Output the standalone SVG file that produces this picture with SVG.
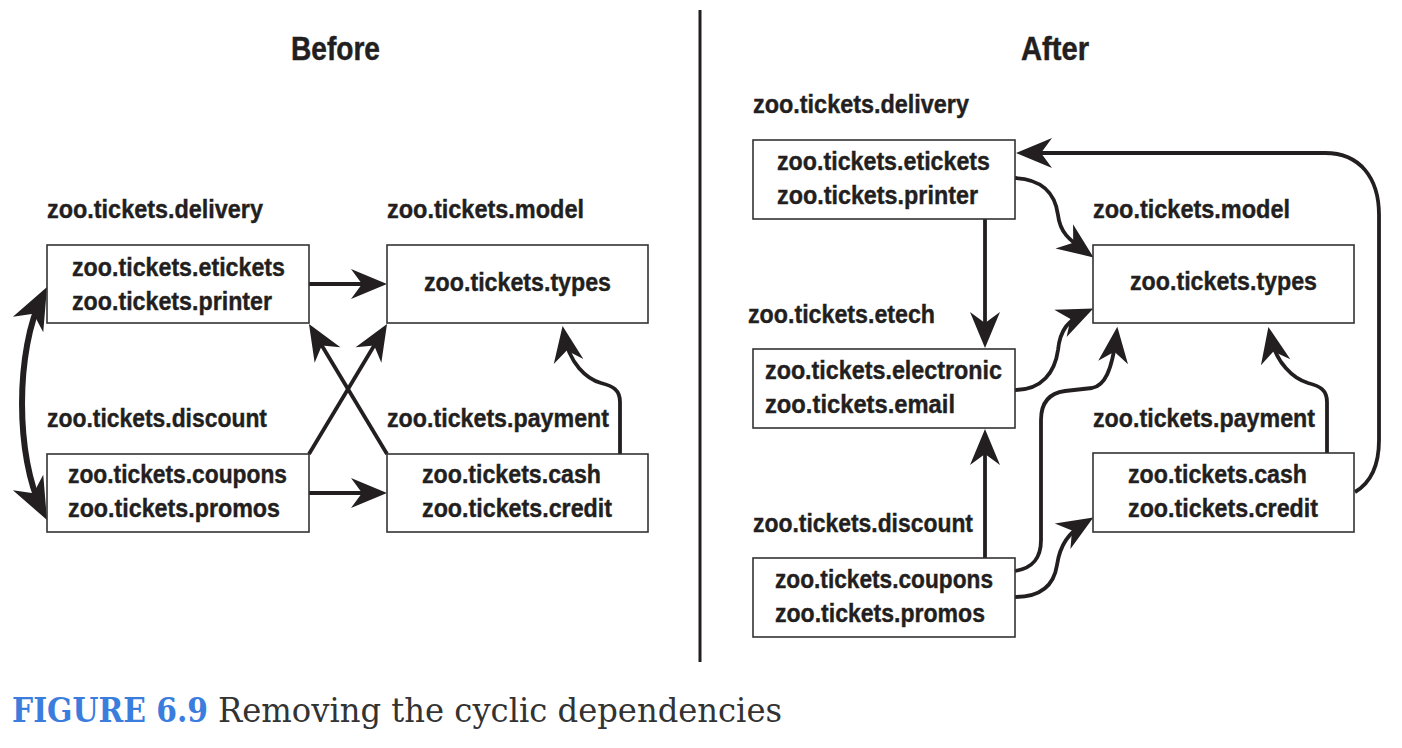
<svg xmlns="http://www.w3.org/2000/svg" width="1402" height="748" viewBox="0 0 1402 748">
<defs>
<style>
.t{font-family:"Liberation Sans",Arial,sans-serif;font-weight:bold;font-size:25px;fill:#231f20;stroke:#231f20;stroke-width:0.4}
.ttl{font-family:"Liberation Sans",Arial,sans-serif;font-weight:bold;font-size:34px;fill:#231f20;stroke:#231f20;stroke-width:0.5}
.box{fill:#fff;stroke:#333;stroke-width:1.6}
.c{fill:none;stroke:#231f20;stroke-width:3.8}
.thick{stroke-width:6}
.cap{font-family:"DejaVu Serif","Liberation Serif",serif;font-size:33px}
</style>
<marker id="ah" viewBox="-37 -16 39 32" refX="-8" refY="0" markerWidth="39" markerHeight="32" markerUnits="userSpaceOnUse" orient="auto"><path d="M0,0 L-36,-15 L-25,0 L-36,15 Z" fill="#231f20"/></marker>
<marker id="ahb" viewBox="-44 -18 46 36" refX="-10" refY="0" markerWidth="46" markerHeight="36" markerUnits="userSpaceOnUse" orient="auto-start-reverse"><path d="M0,0 L-42,-17 L-30,0 L-42,17 Z" fill="#231f20"/></marker>
</defs>
<rect width="1402" height="748" fill="#fff"/>

<g id="titles">
<text class="ttl" x="291" y="60" textLength="89" lengthAdjust="spacingAndGlyphs">Before</text>
<text class="ttl" x="1021" y="60" textLength="68" lengthAdjust="spacingAndGlyphs">After</text>
</g>
<line id="divider" x1="700" y1="10" x2="700" y2="662" stroke="#231f20" stroke-width="3"/>

<g id="connectors">
<!-- Before -->
<path class="c thick" d="M42.5,295.9 C15.2,349.9 15.2,457.1 42.5,511.1" marker-start="url(#ahb)" marker-end="url(#ahb)"/>
<path class="c" d="M309,284 L379,284" marker-end="url(#ah)"/>
<path class="c" d="M309,493 L379,493" marker-end="url(#ah)"/>
<path class="c" d="M309,454 L382.9,330.9" marker-end="url(#ah)"/>
<path class="c" d="M387,454 L313.1,330.9" marker-end="url(#ah)"/>
<path class="c" d="M620,454 L620,402 C620,390 613,386 601,383 C587,379 569,364 563.9,333.8" marker-end="url(#ah)"/>
<!-- After -->
<path class="c" d="M985,219 L985,340" marker-end="url(#ah)"/>
<path class="c" d="M985,558 L985,437" marker-end="url(#ah)"/>
<path class="c" d="M1355,492 C1372,482 1379,465 1379,440 L1379,215 C1379,178 1360,153 1325,153 L1024,153" marker-end="url(#ah)"/>
<path class="c" d="M1015,178 C1040,179 1055,192 1058,215 C1060,232 1068,239 1087,252.7" marker-end="url(#ah)"/>
<path class="c" d="M1015,390 C1042,390 1055,372 1058,350 C1060,330 1068,320 1086,311.9" marker-end="url(#ah)"/>
<path class="c" d="M1015,571 C1033,568 1041,558 1041,540 L1041,420 C1041,402 1050,393 1065,391 L1092,388 C1104,386 1112,372 1116.4,334.8" marker-end="url(#ah)"/>
<path class="c" d="M1015,597 C1042,597 1054,585 1057,565 C1060,545 1068,533 1086.5,521.7" marker-end="url(#ah)"/>
<path class="c" d="M1327,453 L1327,402 C1327,390 1320,386 1308,383 C1294,379 1276,364 1270,334.8" marker-end="url(#ah)"/>
</g>

<!-- Before nodes -->
<g id="b-delivery">
<text class="t" x="47" y="218" textLength="216" lengthAdjust="spacingAndGlyphs">zoo.tickets.delivery</text>
<rect class="box" x="47" y="245" width="262" height="78"/>
<text class="t" x="72" y="276" textLength="213" lengthAdjust="spacingAndGlyphs">zoo.tickets.etickets</text>
<text class="t" x="72" y="310" textLength="200" lengthAdjust="spacingAndGlyphs">zoo.tickets.printer</text>
</g>
<g id="b-model">
<text class="t" x="387" y="218" textLength="197" lengthAdjust="spacingAndGlyphs">zoo.tickets.model</text>
<rect class="box" x="387" y="245" width="261" height="78"/>
<text class="t" x="424" y="291" textLength="187" lengthAdjust="spacingAndGlyphs">zoo.tickets.types</text>
</g>
<g id="b-discount">
<text class="t" x="47" y="427" textLength="220" lengthAdjust="spacingAndGlyphs">zoo.tickets.discount</text>
<rect class="box" x="47" y="454" width="262" height="78"/>
<text class="t" x="68" y="483" textLength="219" lengthAdjust="spacingAndGlyphs">zoo.tickets.coupons</text>
<text class="t" x="68" y="517" textLength="212" lengthAdjust="spacingAndGlyphs">zoo.tickets.promos</text>
</g>
<g id="b-payment">
<text class="t" x="387" y="427" textLength="222" lengthAdjust="spacingAndGlyphs">zoo.tickets.payment</text>
<rect class="box" x="387" y="454" width="261" height="78"/>
<text class="t" x="422" y="483" textLength="179" lengthAdjust="spacingAndGlyphs">zoo.tickets.cash</text>
<text class="t" x="422" y="517" textLength="190" lengthAdjust="spacingAndGlyphs">zoo.tickets.credit</text>
</g>

<!-- After nodes -->
<g id="a-delivery">
<text class="t" x="753" y="113" textLength="216" lengthAdjust="spacingAndGlyphs">zoo.tickets.delivery</text>
<rect class="box" x="753" y="140" width="262" height="79"/>
<text class="t" x="777" y="170" textLength="213" lengthAdjust="spacingAndGlyphs">zoo.tickets.etickets</text>
<text class="t" x="777" y="204" textLength="201" lengthAdjust="spacingAndGlyphs">zoo.tickets.printer</text>
</g>
<g id="a-etech">
<text class="t" x="748" y="323" textLength="187" lengthAdjust="spacingAndGlyphs">zoo.tickets.etech</text>
<rect class="box" x="753" y="349" width="262" height="79"/>
<text class="t" x="765" y="379" textLength="237" lengthAdjust="spacingAndGlyphs">zoo.tickets.electronic</text>
<text class="t" x="765" y="413" textLength="190" lengthAdjust="spacingAndGlyphs">zoo.tickets.email</text>
</g>
<g id="a-discount">
<text class="t" x="753" y="532" textLength="220" lengthAdjust="spacingAndGlyphs">zoo.tickets.discount</text>
<rect class="box" x="753" y="558" width="262" height="79"/>
<text class="t" x="775" y="588" textLength="218" lengthAdjust="spacingAndGlyphs">zoo.tickets.coupons</text>
<text class="t" x="775" y="622" textLength="210" lengthAdjust="spacingAndGlyphs">zoo.tickets.promos</text>
</g>
<g id="a-model">
<text class="t" x="1093" y="218" textLength="197" lengthAdjust="spacingAndGlyphs">zoo.tickets.model</text>
<rect class="box" x="1093" y="245" width="261" height="78"/>
<text class="t" x="1130" y="290" textLength="187" lengthAdjust="spacingAndGlyphs">zoo.tickets.types</text>
</g>
<g id="a-payment">
<text class="t" x="1093" y="427" textLength="222" lengthAdjust="spacingAndGlyphs">zoo.tickets.payment</text>
<rect class="box" x="1093" y="453" width="261" height="79"/>
<text class="t" x="1128" y="483" textLength="179" lengthAdjust="spacingAndGlyphs">zoo.tickets.cash</text>
<text class="t" x="1128" y="517" textLength="190" lengthAdjust="spacingAndGlyphs">zoo.tickets.credit</text>
</g>

<g id="caption">
<text class="cap" x="12" y="722" font-weight="bold" fill="#3b7ddd" textLength="196" lengthAdjust="spacingAndGlyphs">FIGURE 6.9</text>
<text class="cap" x="218" y="722" fill="#333" textLength="564" lengthAdjust="spacingAndGlyphs">Removing the cyclic dependencies</text>
</g>
</svg>
